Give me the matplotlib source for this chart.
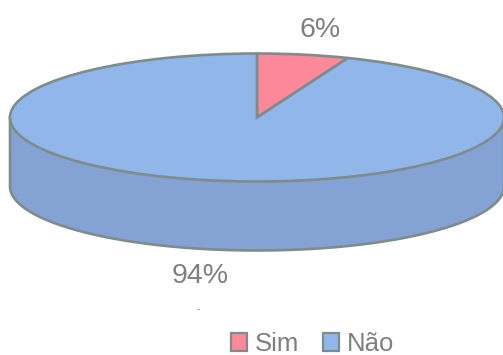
import numpy as np
import matplotlib
matplotlib.use("Agg")
import matplotlib.pyplot as plt
from matplotlib.patches import Patch

plt.rcParams['font.family'] = ['Liberation Sans', 'DejaVu Sans']

categories = ["Sim", "Não"]
values = [6, 94]
labels = ["6%", "94%"]
colors = ["#FC8899", "#90B6EA"]
side_color = "#84A3D4"
edge = "#7E8C8C"
text_color = "#7F7F7F"

W, H = 503, 355
cx, cy, rx, ry = 257, 117.5, 247, 64
depth = 69

fig = plt.figure(figsize=(W/100, H/100), dpi=100)
ax = fig.add_axes([0, 0, 1, 1])

# the side wall of the disc
th = np.linspace(np.pi, 2*np.pi, 300)
xs = np.cos(th)
ys = np.sin(th)
d = depth/ry
ax.fill_between(xs, ys, ys-d, color=side_color, lw=0, zorder=1)
ax.plot(np.r_[-1, xs, 1], np.r_[0, ys-d, 0], color=edge, lw=1.9, zorder=2,
        solid_joinstyle='round')

# the top face
wedges, _ = ax.pie(values, colors=colors, startangle=90, counterclock=False,
                   wedgeprops=dict(edgecolor=edge, linewidth=1.9))
for w in wedges:
    w.set_zorder(3)

ax.set_aspect('auto')
ax.set_xlim(-cx/rx, (W-cx)/rx)
ax.set_ylim(-(H-cy)/ry, cy/ry)
ax.axis('off')

def px(x, y):
    return (x-cx)/rx, (cy-y)/ry

ax.text(*px(320, 30), labels[0], ha='center', va='center', fontsize=20.5, color=text_color, zorder=5)
ax.text(*px(200.5, 276), labels[1], ha='center', va='center', fontsize=20.5, color=text_color, zorder=5)
ax.text(*px(198, 309), "-", ha='center', va='center', fontsize=7, color=text_color, zorder=5)

handles = [Patch(facecolor=c, edgecolor=edge, linewidth=1.6) for c in colors]
ax.legend(handles, categories, loc='center', bbox_to_anchor=(312.5/W, 1-344/H),
          ncol=2, frameon=False, fontsize=18.5, labelcolor=text_color,
          handlelength=0.65, handleheight=0.65, handletextpad=0.3, columnspacing=0.9,
          borderpad=0, borderaxespad=0)

fig.savefig("out.png", dpi=100)
